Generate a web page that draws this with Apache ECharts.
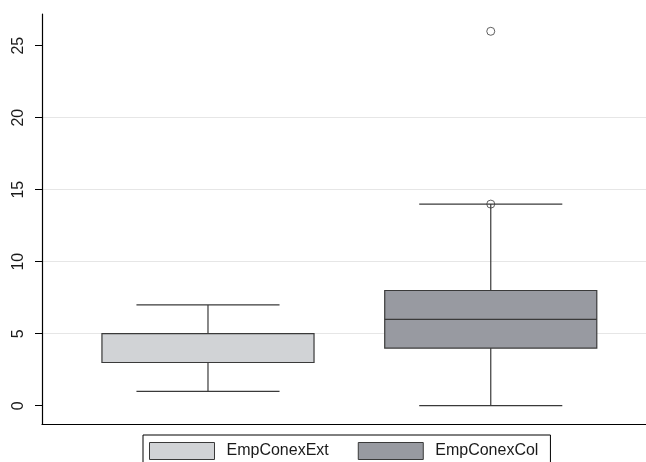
<!DOCTYPE html>
<html>
<head>
<meta charset="utf-8">
<script src="https://cdn.jsdelivr.net/npm/echarts@6/dist/echarts.min.js"></script>
<style>
html,body{margin:0;padding:0;background:#fff;}
#chart{width:646px;height:462px;}
</style>
</head>
<body>
<div id="chart"></div>
<script>
const categories = ['EmpConexExt', 'EmpConexCol'];
const whiskerLow = [1, 0];
const q1 = [3, 4];
const median = [3, 6];
const q3 = [5, 8];
const whiskerHigh = [7, 14];
const outliers = [[], [14, 26]];
const yTicks = [0, 5, 10, 15, 20, 25];
const fillColors = ['#d1d3d6', '#989aa1'];

const FONT = '"Liberation Sans", Arial, Helvetica, sans-serif';
const LINE = '#3a3a3a';
const BOX_W = 0.75;
const CAP_W = 0.506;

function renderBox(params, api) {
  const x = api.value(0);
  const lo = api.value(1), a = api.value(2), m = api.value(3), b = api.value(4), hi = api.value(5);
  const pL = api.coord([x - BOX_W / 2, b]);
  const pR = api.coord([x + BOX_W / 2, a]);
  const cL = api.coord([x - CAP_W / 2, hi])[0];
  const cR = api.coord([x + CAP_W / 2, hi])[0];
  const cx = api.coord([x, 0])[0];
  const yLo = api.coord([x, lo])[1];
  const yHi = api.coord([x, hi])[1];
  const yA = api.coord([x, a])[1];
  const yB = api.coord([x, b])[1];
  const yM = api.coord([x, m])[1];
  const ls = { stroke: LINE, lineWidth: 1.2 };
  return {
    type: 'group',
    children: [
      { type: 'line', shape: { x1: cx, y1: yB, x2: cx, y2: yHi }, style: ls },
      { type: 'line', shape: { x1: cx, y1: yA, x2: cx, y2: yLo }, style: ls },
      { type: 'line', shape: { x1: cL, y1: yHi, x2: cR, y2: yHi }, style: ls },
      { type: 'line', shape: { x1: cL, y1: yLo, x2: cR, y2: yLo }, style: ls },
      { type: 'rect', shape: { x: pL[0], y: pL[1], width: pR[0] - pL[0], height: pR[1] - pL[1] },
        style: { fill: api.visual('color'), stroke: LINE, lineWidth: 1.2 } },
      { type: 'line', shape: { x1: pL[0], y1: yM, x2: pR[0], y2: yM }, style: ls }
    ]
  };
}

const series = categories.map((name, i) => ({
  name: name,
  type: 'custom',
  renderItem: renderBox,
  itemStyle: { color: fillColors[i] },
  encode: { x: 0, y: [1, 2, 3, 4, 5] },
  data: [[i + 1, whiskerLow[i], q1[i], median[i], q3[i], whiskerHigh[i]]],
  z: 3
}));

const outlierData = [];
outliers.forEach((arr, i) => arr.forEach(v => outlierData.push([i + 1, v])));
series.push({
  name: 'outliers',
  type: 'scatter',
  symbol: 'circle',
  symbolSize: 8,
  itemStyle: { color: 'rgba(255,255,255,0)', borderColor: LINE, borderWidth: 1 },
  data: outlierData,
  z: 5
});

const chart = echarts.init(document.getElementById('chart'), null, { renderer: 'canvas' });
chart.setOption({
  animation: false,
  backgroundColor: '#ffffff',
  grid: { left: 42, right: 0, top: 14, bottom: 38, containLabel: false },
  xAxis: {
    type: 'value',
    min: 0.413,
    max: 2.549,
    axisLine: { show: true, onZero: false, lineStyle: { color: '#000', width: 1.2 } },
    axisTick: { show: false },
    axisLabel: { show: false },
    splitLine: { show: false }
  },
  yAxis: {
    type: 'value',
    min: -1.27,
    max: 27.2,
    axisLine: { show: true, lineStyle: { color: '#000', width: 1.2 } },
    axisTick: { show: true, length: 7, customValues: yTicks, lineStyle: { color: '#000', width: 1 } },
    axisLabel: {
      show: true, rotate: 90, margin: 15, customValues: yTicks,
      fontFamily: FONT, fontSize: 16, color: '#1a1a1a'
    },
    splitLine: { show: true, showMinLine: false, showMaxLine: false, lineStyle: { color: '#e6e6e6', width: 1 } }
  },
  legend: {
    left: 143,
    top: 435,
    orient: 'horizontal',
    itemWidth: 65,
    itemHeight: 17,
    itemGap: 29,
    padding: [7, 12, 7, 6],
    borderColor: '#000',
    borderWidth: 1,
    borderRadius: 0,
    icon: 'rect',
    textStyle: { fontFamily: FONT, fontSize: 16, color: '#1a1a1a', padding: [0, 0, 0, 7] },
    data: categories.map((name, i) => ({
      name: name,
      icon: 'rect',
      itemStyle: { color: fillColors[i], borderColor: LINE, borderWidth: 1 }
    }))
  },
  series: series
});
</script>
</body>
</html>
